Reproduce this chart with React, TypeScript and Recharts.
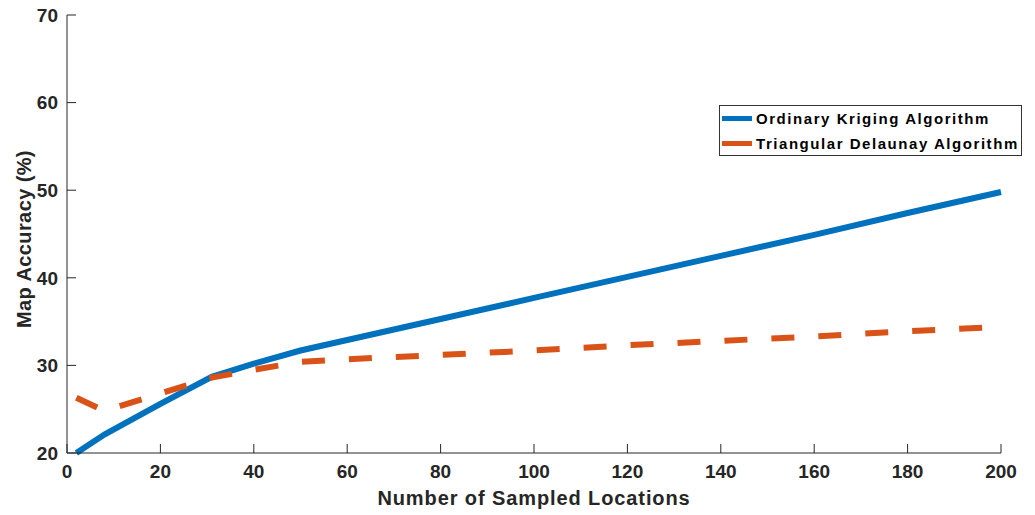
import { LineChart, Line, XAxis, YAxis } from "recharts";

const samples = [2, 8, 20, 31, 40, 50, 60, 80, 100, 120, 140, 160, 180, 200];
const kriging = [20.0, 22.1, 25.6, 28.7, 30.2, 31.7, 32.9, 35.3, 37.7, 40.1, 42.5, 44.9, 47.4, 49.8];
const delaunay = [26.3, 24.8, 26.8, 28.6, 29.5, 30.4, 30.7, 31.2, 31.7, 32.3, 32.8, 33.3, 33.9, 34.4];
const xTicks = [0, 20, 40, 60, 80, 100, 120, 140, 160, 180, 200];
const yTicks = [20, 30, 40, 50, 60, 70];

const series = [
  { key: "kriging", name: "Ordinary Kriging Algorithm", color: "#0072BD", dash: undefined },
  { key: "delaunay", name: "Triangular Delaunay Algorithm", color: "#D95319", dash: "23 24" },
];

const data = samples.map((x, i) => ({ x, kriging: kriging[i], delaunay: delaunay[i] }));

const font = "'Liberation Sans', Arial, sans-serif";
const axisColor = "#262626";

function LegendBox() {
  return (
    <div
      style={{
        position: "absolute", left: 719, top: 105, width: 303, height: 51, boxSizing: "border-box",
        border: "1px solid #333", background: "#fff", fontFamily: font, fontWeight: 700,
        fontSize: 15, letterSpacing: 1.55, color: "#000",
      }}
    >
      {series.map((s, i) => (
        <div key={s.key} style={{ position: "absolute", left: 2, top: 1 + i * 25, height: 22, display: "flex", alignItems: "center", whiteSpace: "nowrap" }}>
          <span style={{ width: 30, height: 5, background: s.color, marginRight: 4, flexShrink: 0 }} />
          <span>{s.name}</span>
        </div>
      ))}
    </div>
  );
}

export default function App() {
  return (
    <div style={{ position: "absolute", left: 0, top: 0, width: 1035, height: 515, background: "#fff" }}>
      <LineChart width={1035} height={515} data={data} margin={{ top: 15, right: 34, bottom: 0, left: 0 }}>
        <XAxis
          dataKey="x"
          type="number"
          domain={[0, 200]}
          ticks={xTicks}
          interval={0}
          height={62}
          stroke={axisColor}
          tickSize={-9}
          tickMargin={21}
          tick={{ fill: axisColor, fontFamily: font, fontWeight: 700, fontSize: 19 }}
          label={{ value: "Number of Sampled Locations", position: "insideBottom", offset: 10, fill: axisColor, fontFamily: font, fontWeight: 700, fontSize: 20, letterSpacing: 0.9 }}
        />
        <YAxis
          type="number"
          domain={[20, 70]}
          ticks={yTicks}
          interval={0}
          width={67}
          stroke={axisColor}
          tickSize={-9}
          tickMargin={18}
          tick={{ fill: axisColor, fontFamily: font, fontWeight: 700, fontSize: 19 }}
          label={{ value: "Map Accuracy (%)", angle: -90, position: "insideLeft", offset: 24, dy: 94, fill: axisColor, fontFamily: font, fontWeight: 700, fontSize: 20, letterSpacing: 0.4 }}
        />
        {series.map((s) => (
          <Line
            key={s.key}
            dataKey={s.key}
            name={s.name}
            stroke={s.color}
            strokeWidth={6}
            strokeDasharray={s.dash}
            dot={false}
            type="linear"
            isAnimationActive={false}
          />
        ))}
      </LineChart>
      <LegendBox />
    </div>
  );
}
